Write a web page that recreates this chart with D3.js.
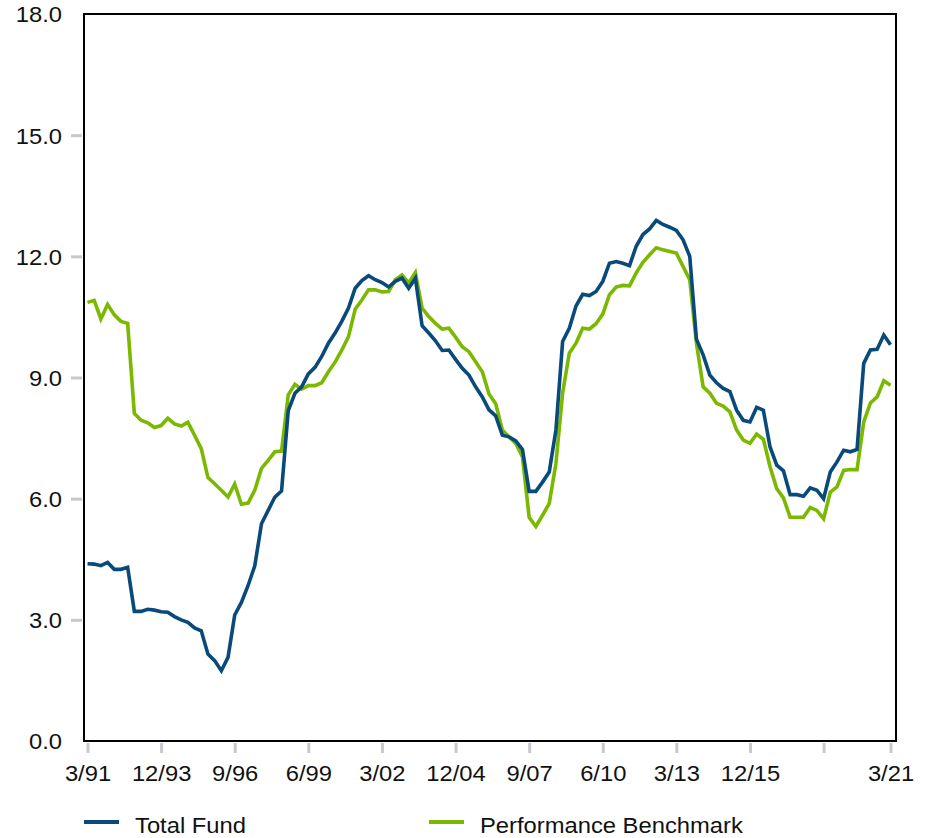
<!DOCTYPE html>
<html>
<head>
<meta charset="utf-8">
<script src="https://cdn.jsdelivr.net/npm/d3@7/dist/d3.min.js"></script>
<style>
  html, body { margin: 0; padding: 0; background: #fff; }
  svg { display: block; }
  text { font-family: "Liberation Sans", Arial, Helvetica, sans-serif; fill: #111; }
</style>
</head>
<body>
<svg id="chart" width="930" height="838"></svg>
<script>
// ---- Data (quarterly, 3/91 .. 3/21) ----
const totalFund = [
  4.39,4.38,4.34,4.42,4.25,4.25,4.30,3.21,3.21,3.26,
  3.24,3.20,3.19,3.08,3.00,2.94,2.80,2.73,2.15,1.99,
  1.74,2.07,3.12,3.43,3.85,4.34,5.38,5.71,6.04,6.19,
  8.18,8.61,8.77,9.09,9.25,9.52,9.85,10.10,10.39,10.72,
  11.21,11.40,11.52,11.42,11.35,11.24,11.38,11.46,11.21,11.46,
  10.28,10.10,9.91,9.67,9.68,9.45,9.23,9.06,8.77,8.52,
  8.20,8.05,7.57,7.53,7.43,7.22,6.18,6.18,6.41,6.66,
  7.70,9.89,10.22,10.77,11.06,11.03,11.13,11.38,11.83,11.87,
  11.83,11.77,12.25,12.54,12.68,12.89,12.79,12.72,12.64,12.41,
  12.00,9.95,9.56,9.06,8.87,8.73,8.65,8.19,7.94,7.90,
  8.26,8.19,7.28,6.83,6.69,6.10,6.10,6.06,6.27,6.21,
  6.00,6.66,6.91,7.20,7.16,7.22,9.35,9.68,9.70,10.05,9.81
];
const benchmark = [
  10.86,10.91,10.45,10.81,10.55,10.39,10.34,8.11,7.94,7.88,
  7.76,7.81,7.99,7.85,7.80,7.89,7.57,7.24,6.52,6.37,
  6.21,6.04,6.36,5.86,5.89,6.21,6.75,6.95,7.16,7.18,
  8.57,8.83,8.71,8.80,8.80,8.87,9.14,9.38,9.68,10.01,
  10.69,10.92,11.17,11.17,11.12,11.13,11.42,11.54,11.34,11.60,
  10.72,10.51,10.34,10.20,10.22,10.00,9.76,9.64,9.39,9.14,
  8.59,8.35,7.70,7.53,7.37,7.03,5.54,5.31,5.59,5.88,
  6.87,8.61,9.60,9.85,10.22,10.20,10.33,10.57,11.05,11.24,
  11.28,11.27,11.59,11.85,12.04,12.21,12.16,12.12,12.08,11.75,
  11.42,9.85,8.77,8.61,8.36,8.29,8.15,7.70,7.45,7.37,
  7.60,7.47,6.79,6.25,6.02,5.54,5.54,5.54,5.78,5.71,
  5.50,6.16,6.29,6.70,6.72,6.72,7.90,8.37,8.52,8.92,8.81
];
const xTickIndex = [0, 11, 22, 33, 44, 55, 66, 77, 88, 99, 110, 120];
const xTickLabels = ["3/91","12/93","9/96","6/99","3/02","12/04","9/07","6/10","3/13","12/15","","3/21"];
const yTicks = [0, 3, 6, 9, 12, 15, 18];
const seriesNames = ["Total Fund", "Performance Benchmark"];
const seriesColors = ["#0a4a7b", "#7bb800"];

// ---- Layout ----
const svg = d3.select("#chart");
const frame = { left: 84, right: 896, top: 14, bottom: 741 };
const stretch = 1.08;

const x = d3.scaleLinear().domain([0, totalFund.length - 1]).range([87.5, 890.5]);
const y = d3.scaleLinear().domain([0, 18]).range([741, 14]);

function widen(sel) {
  sel.each(function () {
    const len = this.getComputedTextLength();
    if (len > 0) {
      d3.select(this).attr("textLength", len * stretch).attr("lengthAdjust", "spacingAndGlyphs");
    }
  });
}

// Y ticks (gray marks) and labels
const yAxis = d3.axisLeft(y)
  .tickValues(yTicks)
  .tickFormat(d3.format(".1f"))
  .tickSize(0)
  .tickPadding(0);
const gy = svg.append("g").attr("transform", `translate(${frame.left},0)`).call(yAxis);
gy.select(".domain").remove();
gy.selectAll(".tick text")
  .attr("x", -22)
  .attr("dy", "0.36em")
  .style("font-size", "22px")
  .style("font-family", "'Liberation Sans', Arial, sans-serif")
  .attr("fill", "#111")
  .call(widen);
gy.selectAll(".tick")
  .filter(d => d !== 0 && d !== 18)
  .append("line")
  .attr("x1", -13).attr("x2", -2)
  .attr("stroke", "#c5cacf").attr("stroke-width", 3);

// X ticks and labels
const xAxis = d3.axisBottom(x)
  .tickValues(xTickIndex)
  .tickFormat((d, i) => xTickLabels[i])
  .tickSize(0)
  .tickPadding(0);
const gx = svg.append("g").attr("transform", `translate(0,${frame.bottom})`).call(xAxis);
gx.select(".domain").remove();
gx.selectAll(".tick line").remove();
gx.selectAll(".tick")
  .append("line")
  .attr("y1", 2).attr("y2", 12)
  .attr("stroke", "#c5cacf").attr("stroke-width", 3);
gx.selectAll(".tick text")
  .attr("y", 40)
  .attr("dy", 0)
  .style("font-size", "22px")
  .style("font-family", "'Liberation Sans', Arial, sans-serif")
  .attr("fill", "#111")
  .call(widen);

// Lines
const line = d3.line().x((d, i) => x(i)).y(d => y(d));
[benchmark, totalFund].forEach((s, k) => {
  const color = k === 0 ? seriesColors[1] : seriesColors[0];
  svg.append("path")
    .datum(s)
    .attr("d", line)
    .attr("fill", "none")
    .attr("stroke", color)
    .attr("stroke-width", 3.6);
});

// Frame
svg.append("rect")
  .attr("x", frame.left).attr("y", frame.top)
  .attr("width", frame.right - frame.left)
  .attr("height", frame.bottom - frame.top)
  .attr("fill", "none")
  .attr("stroke", "#000")
  .attr("stroke-width", 2);

// Legend
const legendX = [84, 429];
seriesNames.forEach((name, i) => {
  const g = svg.append("g").attr("transform", `translate(${legendX[i]},822)`);
  g.append("line").attr("x1", 0).attr("x2", 35).attr("y1", 0).attr("y2", 0)
    .attr("stroke", seriesColors[i]).attr("stroke-width", 4);
  g.append("text").attr("x", 51).attr("y", 3).attr("dy", "0.36em")
    .style("font-size", "22px").text(name).call(widen);
});
</script>
</body>
</html>
